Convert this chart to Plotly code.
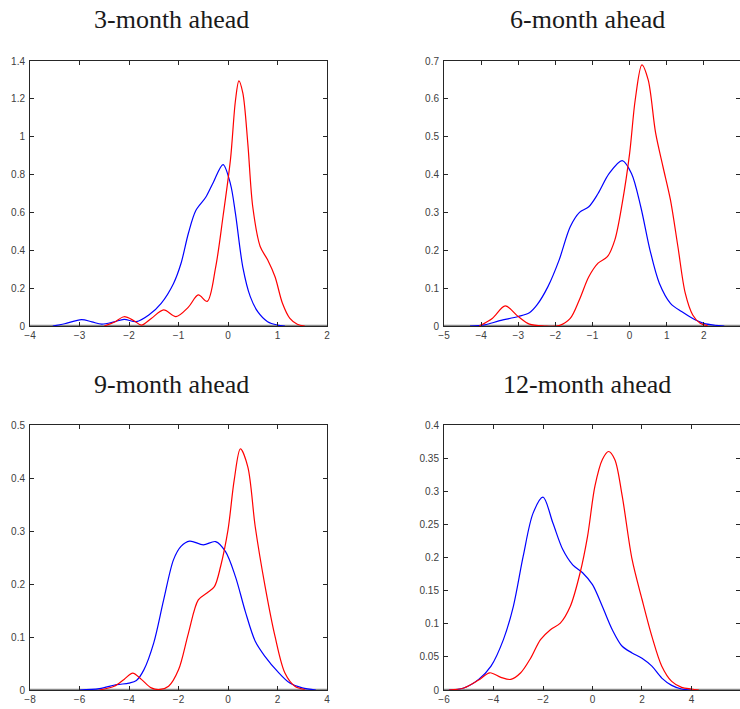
import plotly.graph_objects as go

# ---------------- data ----------------
titles = ["3-month ahead", "6-month ahead", "9-month ahead", "12-month ahead"]

# 3-month ahead
x3_blue = [-3.54, -3.3, -2.96, -2.75, -2.55, -2.3, -2.1, -1.85, -1.6, -1.35, -1.1, -0.95, -0.8, -0.65,
           -0.45, -0.3, -0.1, 0.05, 0.15, 0.3, 0.45, 0.6, 0.8, 1.0, 1.15]
y3_blue = [0.0, 0.012, 0.034, 0.022, 0.01, 0.022, 0.035, 0.023, 0.058, 0.12, 0.225, 0.33, 0.49, 0.61,
           0.68, 0.757, 0.853, 0.75, 0.595, 0.31, 0.155, 0.076, 0.023, 0.005, 0.0]
x3_red = [-2.5, -2.3, -2.1, -1.9, -1.75, -1.55, -1.3, -1.05, -0.8, -0.6, -0.42, -0.25, -0.1, 0.05,
          0.15, 0.22, 0.3, 0.4, 0.5, 0.65, 0.8, 0.95, 1.1, 1.25, 1.4, 1.55]
y3_red = [0.0, 0.02, 0.049, 0.028, 0.005, 0.04, 0.085, 0.05, 0.1, 0.164, 0.13, 0.31, 0.58, 0.88,
          1.19, 1.295, 1.23, 0.965, 0.63, 0.42, 0.35, 0.26, 0.12, 0.04, 0.009, 0.0]

# 6-month ahead
x6_blue = [-4.3, -3.9, -3.5, -3.0, -2.7, -2.5, -2.2, -1.9, -1.6, -1.35, -1.1, -0.85, -0.55, -0.2,
           0.05, 0.3, 0.55, 0.8, 1.1, 1.4, 1.7, 2.0, 2.3, 2.55]
y6_blue = [0.0, 0.003, 0.014, 0.025, 0.035, 0.055, 0.104, 0.174, 0.262, 0.30, 0.315, 0.35, 0.403, 0.437,
           0.403, 0.315, 0.20, 0.113, 0.06, 0.038, 0.02, 0.007, 0.002, 0.0]
x6_red = [-4.05, -3.7, -3.35, -3.0, -2.7, -2.3, -1.9, -1.6, -1.35, -1.1, -0.85, -0.6, -0.4, -0.2,
          0.0, 0.15, 0.33, 0.5, 0.7, 0.9, 1.1, 1.3, 1.5, 1.7, 1.9, 2.1]
y6_red = [0.0, 0.02, 0.053, 0.025, 0.005, 0.0, 0.001, 0.02, 0.07, 0.13, 0.166, 0.183, 0.227, 0.324,
          0.456, 0.597, 0.69, 0.65, 0.51, 0.42, 0.333, 0.21, 0.086, 0.029, 0.007, 0.001]

# 9-month ahead
x9_blue = [-6.0, -5.2, -4.5, -4.0, -3.7, -3.4, -3.0, -2.6, -2.2, -1.9, -1.55, -1.0, -0.5, -0.1,
           0.3, 0.7, 1.1, 1.5, 2.0, 2.5, 3.0, 3.55]
y9_blue = [0.0, 0.0025, 0.01, 0.013, 0.018, 0.038, 0.089, 0.17, 0.246, 0.271, 0.281, 0.274, 0.28, 0.261,
           0.214, 0.148, 0.092, 0.063, 0.035, 0.013, 0.004, 0.0]
x9_red = [-5.2, -4.6, -4.2, -3.85, -3.5, -3.1, -2.75, -2.4, -2.0, -1.6, -1.2, -0.85, -0.55, -0.3,
          0.0, 0.25, 0.5, 0.8, 1.1, 1.5, 1.9, 2.3, 2.7, 3.1]
y9_red = [0.0, 0.007, 0.02, 0.032, 0.02, 0.004, 0.001, 0.007, 0.038, 0.107, 0.17, 0.183, 0.195, 0.233,
          0.302, 0.396, 0.455, 0.421, 0.308, 0.195, 0.101, 0.032, 0.007, 0.001]

# 12-month ahead
x12_blue = [-5.8, -5.2, -4.6, -4.1, -3.6, -3.2, -2.8, -2.4, -2.0, -1.6, -1.2, -0.8, -0.4, 0.0,
            0.4, 0.8, 1.2, 1.6, 2.0, 2.4, 2.8, 3.2, 3.6, 4.0]
y12_blue = [0.0, 0.003, 0.016, 0.036, 0.076, 0.126, 0.202, 0.267, 0.291, 0.252, 0.212, 0.189, 0.177, 0.159,
            0.126, 0.091, 0.066, 0.056, 0.048, 0.036, 0.018, 0.007, 0.0015, 0.0]
x12_red = [-5.8, -5.2, -4.6, -4.15, -3.7, -3.3, -2.9, -2.5, -2.1, -1.7, -1.3, -0.9, -0.5, -0.2,
           0.1, 0.4, 0.65, 0.9, 1.2, 1.6, 2.0, 2.4, 2.8, 3.2, 3.6, 4.0, 4.3]
y12_red = [0.0, 0.003, 0.015, 0.026, 0.019, 0.016, 0.026, 0.048, 0.076, 0.091, 0.101, 0.126, 0.177, 0.232,
           0.308, 0.348, 0.36, 0.348, 0.293, 0.197, 0.137, 0.081, 0.036, 0.013, 0.004, 0.0015, 0.0]

x_ranges = [[-4, 2], [-5, 2.973], [-8, 4], [-6, 5.96]]
x_dticks = [1, 1, 2, 2]
y_ranges = [[0, 1.4], [0, 0.7], [0, 0.5], [0, 0.4]]
y_dticks = [0.2, 0.1, 0.1, 0.05]

series = [
    (x3_blue, y3_blue, x3_red, y3_red),
    (x6_blue, y6_blue, x6_red, y6_red),
    (x9_blue, y9_blue, x9_red, y9_red),
    (x12_blue, y12_blue, x12_red, y12_red),
]

# ---------------- layout geometry ----------------
W, H = 740, 709
x_doms = [[30 / W, 327 / W], [444 / W, 1.0], [30 / W, 327 / W], [444 / W, 1.0]]
y_doms = [[1 - 326 / H, 1 - 61 / H], [1 - 326 / H, 1 - 61 / H],
          [1 - 690 / H, 1 - 425 / H], [1 - 690 / H, 1 - 425 / H]]
title_pos = [(171, 20), (587, 20), (171, 384), (587, 384)]

fig = go.Figure()
axis_col = "#262626"
tick_font = dict(family="Liberation Sans, Arial, sans-serif", size=10, color="#404040")

for i, (xb, yb, xr, yr) in enumerate(series):
    n = "" if i == 0 else str(i + 1)
    fig.add_trace(go.Scatter(x=xb, y=yb, mode="lines", line=dict(color="#0000ff", width=1.2, shape="spline", smoothing=0.9),
                             xaxis="x" + n, yaxis="y" + n, showlegend=False, hoverinfo="skip"))
    fig.add_trace(go.Scatter(x=xr, y=yr, mode="lines", line=dict(color="#ff0000", width=1.2, shape="spline", smoothing=0.9),
                             xaxis="x" + n, yaxis="y" + n, showlegend=False, hoverinfo="skip"))
    common = dict(showgrid=False, zeroline=False, showline=True, linecolor=axis_col, linewidth=1,
                  mirror="ticks", ticks="inside", ticklen=4, tickwidth=1, tickcolor=axis_col,
                  tickfont=tick_font, automargin=False)
    fig.layout["xaxis" + n] = dict(domain=x_doms[i], range=x_ranges[i], dtick=x_dticks[i], tick0=0,
                                   anchor="y" + n, **common)
    fig.layout["yaxis" + n] = dict(domain=y_doms[i], range=y_ranges[i], dtick=y_dticks[i], tick0=0,
                                   anchor="x" + n, ticklabelstandoff=2, **common)
    # gray baseline at zero density
    fig.add_shape(type="line", xref="x" + n + " domain", yref="y" + n, x0=0, x1=1, y0=0, y1=0,
                  line=dict(color="#8a8a8a", width=2.5), layer="below")
    tx, ty = title_pos[i]
    fig.add_annotation(text=titles[i], xref="paper", yref="paper", x=tx / W, y=1 - ty / H,
                       xanchor="center", yanchor="middle", showarrow=False,
                       font=dict(family="Liberation Serif, Times New Roman, serif", size=26, color="#1a1a1a"))

fig.update_layout(width=W, height=H, margin=dict(l=0, r=0, t=0, b=0, autoexpand=False),
                  paper_bgcolor="white", plot_bgcolor="white")

fig.write_html("out.html")
